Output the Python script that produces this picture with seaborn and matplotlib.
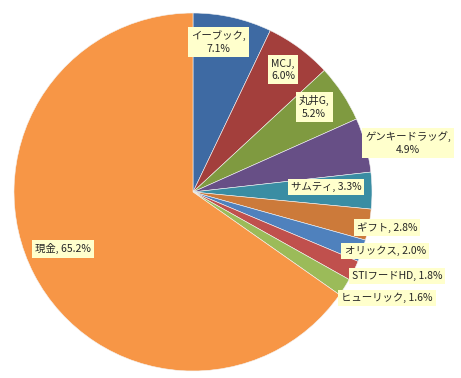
import matplotlib
matplotlib.use("Agg")
import matplotlib.pyplot as plt
import seaborn as sns

# データ
names = ["イーブック", "MCJ", "丸井G", "ゲンキードラッグ", "サムティ",
         "ギフト", "オリックス", "STIフードHD", "ヒューリック", "現金"]
shares = [7.1, 6.0, 5.2, 4.9, 3.3, 2.8, 2.0, 1.8, 1.6, 65.2]
two_lines = [True, True, True, True, False, False, False, False, False, False]

colors = ["#3E6AA3", "#A33F3C", "#7F9A40", "#674F86", "#3A8DA3",
          "#CC7A3A", "#4F81BD", "#C0504D", "#9BBB59", "#F79646"]

# ラベル位置 (円の中心=0, 半径=1)
label_pos = [(0.142, 0.838), (0.503, 0.682), (0.676, 0.475), (1.201, 0.274),
             (0.743, 0.028), (1.084, -0.196), (1.073, -0.330), (1.14, -0.469),
             (1.084, -0.592), (-0.726, -0.318)]

sns.set_style("white")
plt.rcParams['font.family'] = ['Noto Sans CJK JP', 'DejaVu Sans']

fig = plt.figure(figsize=(4.61, 3.78), dpi=100)
ax = fig.add_axes([14 / 461, 7 / 378, 358 / 461, 358 / 378])

ax.pie(shares, colors=sns.color_palette(colors), startangle=90, counterclock=False,
       radius=1, wedgeprops=dict(edgecolor="#f4f4f4", linewidth=0.4))
ax.set_xlim(-1, 1)
ax.set_ylim(-1, 1)
ax.set_aspect("equal")
ax.axis("off")

for name, val, tl, (x, y) in zip(names, shares, two_lines, label_pos):
    sep = ",\n" if tl else ", "
    ax.text(x, y, f"{name}{sep}{val:.1f}%", ha="center", va="center",
            fontsize=7.5, linespacing=1.35,
            bbox=dict(boxstyle="square,pad=0.3", fc="#FFFFCC", ec="none"))

plt.savefig("out.png", dpi=100)
